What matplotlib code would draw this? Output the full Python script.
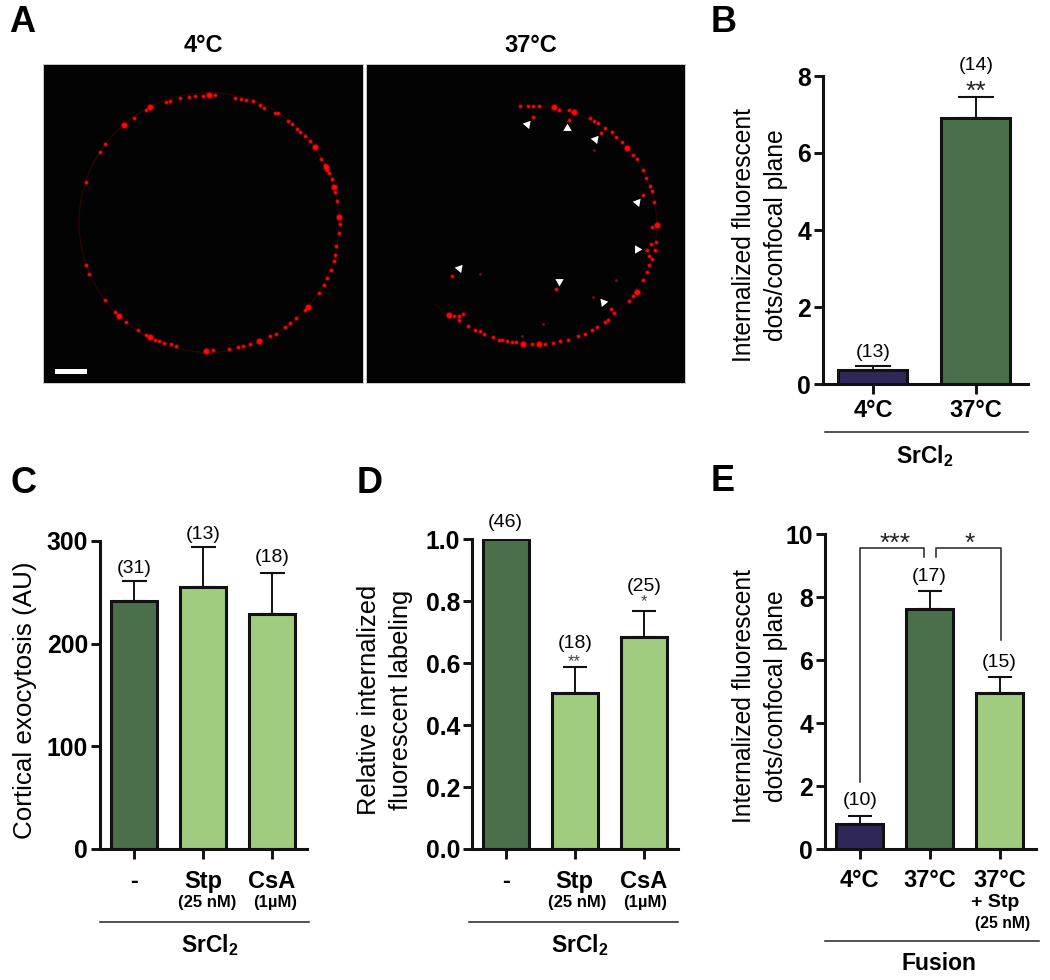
# plot.py - confocal panels and bar charts

import matplotlib
matplotlib.use("Agg")
import matplotlib.pyplot as plt
from matplotlib.lines import Line2D
from matplotlib.patches import Rectangle, Circle, Arc

plt.rcParams['font.family'] = ['Liberation Sans', 'DejaVu Sans']
plt.rcParams['mathtext.fontset'] = 'custom'
plt.rcParams['mathtext.rm'] = 'Liberation Sans:bold'
plt.rcParams['mathtext.bf'] = 'Liberation Sans:bold'
plt.rcParams['mathtext.default'] = 'bf'

W, H = 1050, 980
PURPLE = '#2f2757'
DARK = '#4b6f4b'
LIGHT = '#a0cc80'
EDGE = '#111111'

# panel B
b_labels = ['4°C', '37°C']
b_values = [0.37, 6.92]
b_errors = [0.09, 0.54]
b_n = ['(13)', '(14)']

# panel C
c_labels = ['-', 'Stp', 'CsA']
c_values = [242, 255, 229]
c_errors = [19, 39, 40]
c_n = ['(31)', '(13)', '(18)']

# panel D
d_labels = ['-', 'Stp', 'CsA']
d_values = [1.0, 0.505, 0.685]
d_errors = [0.0, 0.083, 0.085]
d_n = ['(46)', '(18)', '(25)']

# panel E
e_labels = ['4°C', '37°C', '37°C']
e_values = [0.8, 7.62, 4.95]
e_errors = [0.25, 0.56, 0.5]
e_n = ['(10)', '(17)', '(15)']

cold_small = [(490,107),(465,108),(447,111),(525,106),(587,113),(605,117),(620,121),(640,124),
              (660,136),(673,145),(705,158),(715,160),(745,182),(757,192),(772,207),(782,215),
              (797,228),(810,244),(845,297),(855,315),(862,330),(868,338),(877,358),(886,395),
              (892,423),(899,470),(901,494),(899,521),(890,560),(887,585),(884,604),(873,630),
              (862,655),(852,675),(838,700),(795,752),(770,775),(752,790),(737,802),(710,822),
              (690,830),(630,854),(610,860),(595,863),(568,869),(520,872),(410,860),(395,853),
              (372,850),(358,845),(345,840),(318,825),(295,812),(260,787),(226,758),(197,721),
              (149,644),(139,617),(139,365),(182,277),(197,253),(282,175),(318,151),(380,125),
              (392,122),(420,115)]
cold_big = [(508,105),(825,262),(882,380),(805,742),(658,844),(498,873),(330,832),(238,768),
            (253,195),(330,142),(899,470),(858,322)]
warm_small = [(480,139),(505,137),(520,137),(538,137),(597,151),(628,151),(690,175),(703,183),
              (715,190),(736,204),(755,217),(768,230),(786,245),(820,285),(830,298),(849,330),
              (858,354),(871,378),(875,393),(881,425),(877,503),(887,547),(884,570),(873,554),
              (862,570),(868,590),(876,597),(868,617),(861,636),(849,660),(820,708),(808,724),
              (763,760),(752,748),(745,780),(735,786),(712,803),(697,812),(675,822),(655,830),
              (625,840),(600,843),(578,850),(555,852),(515,853),(467,848),(455,847),(440,845),
              (425,842),(415,840),(398,833),(372,823),(358,815),(343,811),(322,798),(297,782),
              (297,770),(309,763),(280,770),(518,172),(627,181),(723,218),(849,405),(275,648),
              (589,688)]
warm_big = [(583,141),(643,156),(802,264),(890,496),(830,697),(537,854),(487,853),(265,765)]
warm_faint = [(703,271),(769,660),(700,713),(358,644),(550,793),(484,828)]
arrow_x = [500, 620, 706, 830, 832, 295, 596, 729]
arrow_y = [192, 205, 236, 425, 567, 626, 663, 728]
arrow_angle = [-40, 0, -40, -40, -90, -40, 180, 40]


def px_axes(left, top, right, bottom):
    return fig.add_axes([left / W, 1 - bottom / H, (right - left) / W, (bottom - top) / H])


def px_text(x, y, s, **kw):
    kw.setdefault('ha', 'center')
    kw.setdefault('va', 'center')
    fig.text(x / W, 1 - y / H, s, **kw)


def px_line(x0, x1, y):
    fig.add_artist(Line2D([x0 / W, x1 / W], [1 - y / H, 1 - y / H], color='#222222', lw=1.1))


def image_panel(left, right, xlim, small, big):
    ax = px_axes(left, 64, right, 383)
    ax.set_facecolor('#030303')
    ax.set_xlim(*xlim)
    ax.set_ylim(970, 12)
    ax.set_xticks([])
    ax.set_yticks([])
    for s in ax.spines.values():
        s.set_color('#cccccc')
        s.set_linewidth(0.7)
    ax.scatter(*zip(*small), s=13, color='#ff0000', alpha=0.3, linewidths=0)
    ax.scatter(*zip(*small), s=5, color='#f80808', linewidths=0)
    ax.scatter(*zip(*big), s=30, color='#ff0000', alpha=0.4, linewidths=0)
    ax.scatter(*zip(*big), s=14, color='#ff0808', linewidths=0)
    return ax


def bar_panel(rect, ylim, yticks, ytick_fmt, values, errors, colors, labels, n, n_off, cap, xpad):
    ax = px_axes(*rect[:4])
    x = list(range(len(values)))
    ax.bar(x, values, width=0.67, color=colors, edgecolor=EDGE, linewidth=2.2, zorder=3)
    ax.errorbar(x, values, yerr=[[0] * len(x), errors], fmt='none', ecolor=EDGE,
                elinewidth=1.4, capsize=cap, capthick=1.5, zorder=2)
    ax.set_xlim(rect[4], rect[5])
    ax.set_ylim(*ylim)
    ax.set_yticks(yticks)
    ax.set_yticklabels([ytick_fmt % t for t in yticks], fontsize=17.8, fontweight='bold')
    ax.set_xticks(x)
    ax.set_xticklabels(labels, fontsize=17, fontweight='bold')
    ax.tick_params(axis='y', length=6.5, width=2.1, pad=2, color=EDGE)
    ax.tick_params(axis='x', length=7, width=2.1, pad=xpad, color=EDGE)
    for side in ['top', 'right']:
        ax.spines[side].set_visible(False)
    for side in ['left', 'bottom']:
        ax.spines[side].set_linewidth(2.2)
        ax.spines[side].set_color(EDGE)
        ax.spines[side].set_zorder(5)
    for i in x:
        ax.annotate(n[i], (i, values[i] + errors[i]), xytext=(0, n_off[i]),
                    textcoords='offset pixels', ha='center', va='center',
                    fontsize=14, annotation_clip=False)
    return ax


def stars(ax, i, y_top, off, s, size=19, color='#222222'):
    ax.annotate(s, (i, y_top), xytext=(0, off), textcoords='offset pixels', ha='center',
                va='center', fontsize=size, color=color, annotation_clip=False)


fig = plt.figure(figsize=(W / 100, H / 100), dpi=100, facecolor='white')

# A
ax_a1 = image_panel(43, 363, (10, 970), cold_small, cold_big)
ax_a1.add_patch(Circle((508, 488), 390, fill=False, ec='#340404', lw=0.8, zorder=0))
ax_a1.add_patch(Rectangle((45, 928), 98, 16, color='white', lw=0))
ax_a2 = image_panel(366, 685, (17, 975), warm_small, warm_big)
ax_a2.add_patch(Arc((510, 495), 760, 716, theta1=-95, theta2=140, ec='#2c0404', lw=0.7, zorder=0))
ax_a2.scatter(*zip(*warm_faint), s=4, color='#8a0808', linewidths=0)
for ax_x, ax_y, ang in zip(arrow_x, arrow_y, arrow_angle):
    ax_a2.plot(ax_x, ax_y, marker=(3, 0, ang), ms=7, color='white', mew=0, zorder=6)
px_text(203, 46, '4°C', fontsize=17, fontweight='bold')
px_text(531, 45, '37°C', fontsize=17, fontweight='bold')

# B
ax_b = bar_panel((822.7, 76, 1028, 384, -0.488, 1.505), (0, 8), [0, 2, 4, 6, 8], '%d',
                 b_values, b_errors, [PURPLE, DARK], b_labels, b_n, [14, 31], 12.8, 3.5)
stars(ax_b, 1, b_values[1] + b_errors[1], 5, '**')
px_text(760, 235, 'Internalized fluorescent\ndots/confocal plane', rotation=90,
        fontsize=17.7, linespacing=1.4, ma='center')
px_line(825, 1028, 432)
px_text(925, 456, r'SrCl$_{2}$', fontsize=16.5, fontweight='bold')

# C
ax_c = bar_panel((100, 541, 307, 849, -0.493, 2.507), (0, 300), [0, 100, 200, 300], '%d',
                 c_values, c_errors, [DARK, LIGHT, LIGHT], c_labels, c_n, [13, 13, 15], 9, 8)
px_text(25, 700, 'Cortical exocytosis (AU)', rotation=90, fontsize=18.7)
px_text(207, 902, '(25 nM)', fontsize=12, fontweight='bold')
px_text(275, 902, '(1µM)', fontsize=12, fontweight='bold')
px_line(100, 309, 921.7)
px_text(210, 945, r'SrCl$_{2}$', fontsize=16.5, fontweight='bold')

# D
ax_d = bar_panel((472, 539.3, 678, 849, -0.488, 2.497), (0, 1), [0, 0.2, 0.4, 0.6, 0.8, 1.0], '%.1f',
                 d_values, d_errors, [DARK, LIGHT, LIGHT], d_labels, d_n, [17, 23, 24], 8.5, 8)
stars(ax_d, 1, d_values[1] + d_errors[1], 5, '**', size=12, color='#444444')
stars(ax_d, 2, d_values[2] + d_errors[2], 9, '*', size=12, color='#444444')
px_text(385, 700, 'Relative internalized\nfluorescent labeling', rotation=90,
        fontsize=18.4, linespacing=1.4, ma='center')
px_text(577, 902, '(25 nM)', fontsize=12, fontweight='bold')
px_text(645, 902, '(1µM)', fontsize=12, fontweight='bold')
px_line(469, 678, 921.7)
px_text(580, 945, r'SrCl$_{2}$', fontsize=16.5, fontweight='bold')

# E
ax_e = bar_panel((825, 534, 1036, 849.3, -0.496, 2.52), (0, 10), [0, 2, 4, 6, 8, 10], '%d',
                 e_values, e_errors, [PURPLE, DARK, LIGHT], e_labels, e_n, [16, 15, 15], 8.5, 7)
bracket = dict(color='#222222', lw=1.1, clip_on=False, zorder=4)
ax_e.plot([0, 0, 0.92, 0.92], [2.15, 9.55, 9.55, 9.28], **bracket)
ax_e.plot([1.09, 1.09, 2.02, 2.02], [9.28, 9.55, 9.55, 6.64], **bracket)
ax_e.text(0.5, 9.68, '***', ha='center', va='center', fontsize=19, color='#222222')
ax_e.text(1.58, 9.68, '*', ha='center', va='center', fontsize=19, color='#222222')
px_text(760, 696, 'Internalized fluorescent\ndots/confocal plane', rotation=90,
        fontsize=17.7, linespacing=1.4, ma='center')
px_text(995, 902, '+ Stp', fontsize=14, fontweight='bold')
px_text(1003, 923, '(25 nM)', fontsize=11.3, fontweight='bold')
px_line(825, 1039, 941)
px_text(939, 963, 'Fusion', fontsize=16.5, fontweight='bold')

# panel letters
for s, x, y in [('A', 9, 22), ('B', 711, 23), ('C', 10, 483), ('D', 357, 483), ('E', 711, 481)]:
    px_text(x, y, s, ha='left', fontsize=26, fontweight='bold')

fig.savefig('out.png', dpi=100)
